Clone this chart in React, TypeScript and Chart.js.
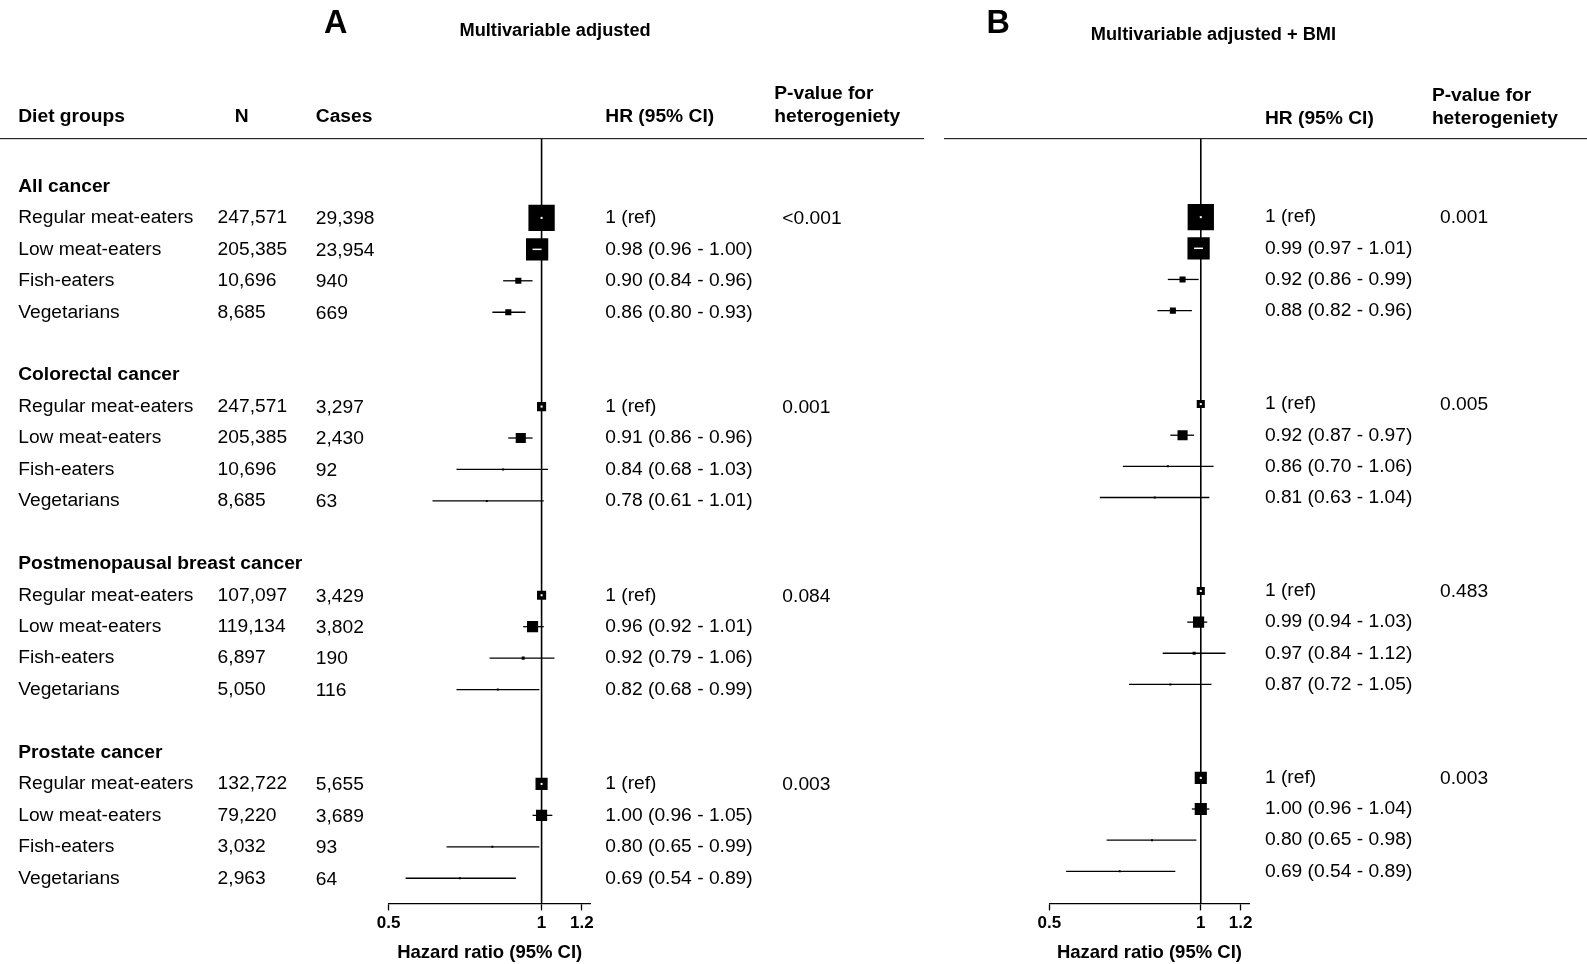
import React, { useEffect, useRef } from "react";
import { Chart, registerables } from "chart.js";
Chart.register(...registerables);

const cancers = ["All cancer", "Colorectal cancer", "Postmenopausal breast cancer", "Prostate cancer"];
const groups = ["Regular meat-eaters", "Low meat-eaters", "Fish-eaters", "Vegetarians"];
const nValues = [
  ["247,571", "205,385", "10,696", "8,685"],
  ["247,571", "205,385", "10,696", "8,685"],
  ["107,097", "119,134", "6,897", "5,050"],
  ["132,722", "79,220", "3,032", "2,963"],
];
const caseValues = [
  ["29,398", "23,954", "940", "669"],
  ["3,297", "2,430", "92", "63"],
  ["3,429", "3,802", "190", "116"],
  ["5,655", "3,689", "93", "64"],
];
const hrA = [[1, 0.98, 0.9, 0.86], [1, 0.91, 0.84, 0.78], [1, 0.96, 0.92, 0.82], [1, 1.0, 0.8, 0.69]];
const loA = [[1, 0.96, 0.84, 0.8], [1, 0.86, 0.68, 0.61], [1, 0.92, 0.79, 0.68], [1, 0.96, 0.65, 0.54]];
const hiA = [[1, 1.0, 0.96, 0.93], [1, 0.96, 1.03, 1.01], [1, 1.01, 1.06, 0.99], [1, 1.05, 0.99, 0.89]];
const sizeA = [[26, 22, 6, 6], [9, 10, 2, 2], [9, 11, 3, 2], [12, 11, 2, 2]];
const pA = ["<0.001", "0.001", "0.084", "0.003"];
const hrB = [[1, 0.99, 0.92, 0.88], [1, 0.92, 0.86, 0.81], [1, 0.99, 0.97, 0.87], [1, 1.0, 0.8, 0.69]];
const loB = [[1, 0.97, 0.86, 0.82], [1, 0.87, 0.7, 0.63], [1, 0.94, 0.84, 0.72], [1, 0.96, 0.65, 0.54]];
const hiB = [[1, 1.01, 0.99, 0.96], [1, 0.97, 1.06, 1.04], [1, 1.03, 1.12, 1.05], [1, 1.04, 0.98, 0.89]];
const sizeB = [[26, 22, 6, 6], [8, 10, 2, 2], [8, 11, 3, 2], [12, 12, 2, 2]];
const pB = ["0.001", "0.005", "0.483", "0.003"];
const xTicks = [0.5, 1, 1.2];

const K = 1587 / 1568;
const FONT = "'Liberation Sans', Arial, sans-serif";
const BODY = 19;
const f2 = (v: number) => v.toFixed(2);
const rowOf = (c: number, g: number) => c * 6 + 1 + g;

type Panel = {
  hr: number[][]; lo: number[][]; hi: number[][]; size: number[][]; p: string[];
  left: number; width: number; padL: number; padR: number; yMin: number; yMax: number; full: boolean;
  letter: string; letterX: number; title: string; titleX: number; titleY: number;
  hrX: number; pHeadX: number; pX: number; lineL: number; lineR: number;
};

const panels: Panel[] = [
  { hr: hrA, lo: loA, hi: hiA, size: sizeA, p: pA, left: 0, width: 930 * K, padL: 384 * K, padR: (930 - 584) * K,
    yMin: -1.52, yMax: 22.8, full: true, letter: "A", letterX: 320, title: "Multivariable adjusted",
    titleX: 454, titleY: 31, hrX: 598, pHeadX: 765, pX: 773, lineL: 0, lineR: 913 },
  { hr: hrB, lo: loB, hi: hiB, size: sizeB, p: pB, left: 930 * K, width: 1587 - 930 * K, padL: 107 * K, padR: 1587 - 930 * K - 304.6 * K,
    yMin: -1.52, yMax: 23.03, full: false, letter: "B", letterX: 975, title: "Multivariable adjusted + BMI",
    titleX: 1078, titleY: 35, hrX: 1250, pHeadX: 1415, pX: 1423, lineL: 933, lineR: 1590 },
];

function PanelChart({ P }: { P: Panel }) {
  const ref = useRef<HTMLCanvasElement>(null);
  useEffect(() => {
    const pts: any[] = [];
    const radii: number[] = [];
    for (let c = 0; c < 4; c++)
      for (let g = 0; g < 4; g++) {
        pts.push({ x: P.hr[c][g], y: rowOf(c, g), lo: P.lo[c][g], hi: P.hi[c][g], ref: g === 0 });
        radii.push((P.size[c][g] * K) / Math.SQRT2);
      }
    const L = P.left;
    const plugin = {
      id: "forest",
      beforeDatasetsDraw(chart: any) {
        const { ctx, scales, chartArea } = chart;
        const xs = scales.x, ys = scales.y;
        ctx.save();
        ctx.strokeStyle = "#000";
        ctx.lineWidth = 1.6;
        const x1 = xs.getPixelForValue(1);
        ctx.beginPath(); ctx.moveTo(x1, chartArea.top); ctx.lineTo(x1, chartArea.bottom); ctx.stroke();
        ctx.lineWidth = 1.3;
        pts.forEach((p) => {
          const y = ys.getPixelForValue(p.y);
          ctx.beginPath(); ctx.moveTo(xs.getPixelForValue(p.lo), y); ctx.lineTo(xs.getPixelForValue(p.hi), y); ctx.stroke();
        });
        ctx.restore();
      },
      afterDatasetsDraw(chart: any) {
        const { ctx, scales } = chart;
        const xs = scales.x, ys = scales.y;
        ctx.save();
        ctx.strokeStyle = "#fff";
        ctx.fillStyle = "#fff";
        pts.forEach((p, i) => {
          const half = radii[i] * Math.SQRT1_2;
          const x = xs.getPixelForValue(p.x), y = ys.getPixelForValue(p.y);
          if (p.ref) { if (half >= 3) ctx.fillRect(x - 1, y - 1, 2, 2); return; }
          if (half < 8) return;
          const a = Math.max(xs.getPixelForValue(p.lo), x - half + 1);
          const b = Math.min(xs.getPixelForValue(p.hi), x + half - 1);
          ctx.lineWidth = 1.5;
          ctx.beginPath(); ctx.moveTo(a, y); ctx.lineTo(b, y); ctx.stroke();
        });
        ctx.fillStyle = "#000";
        ctx.strokeStyle = "#000";
        ctx.textBaseline = "middle";
        ctx.textAlign = "left";
        const T = (s: string, x: number, y: number, bold = false, size = BODY, abs = false) => {
          ctx.font = `${bold ? "bold " : ""}${size * K}px ${FONT}`;
          ctx.fillText(s, x * K - L, abs ? y : y * K);
        };
        T(P.letter, P.letterX, 24, true, 32);
        T(P.title, P.titleX, P.titleY, true, BODY - 1);
        ctx.lineWidth = 1;
        ctx.beginPath(); ctx.moveTo(P.lineL * K - L, 137 * K); ctx.lineTo(P.lineR * K - L, 137 * K); ctx.stroke();
        if (P.full) {
          T("Diet groups", 18, 115, true);
          T("N", 232, 115, true);
          T("Cases", 312, 115, true);
        }
        T("HR (95% CI)", P.hrX, P.full ? 115 : 117, true);
        T("P-value for", P.pHeadX, P.full ? 93 : 95, true);
        T("heterogeniety", P.pHeadX, P.full ? 115 : 117, true);
        for (let c = 0; c < 4; c++) {
          if (P.full) T(cancers[c], 18, ys.getPixelForValue(c * 6), true, BODY, true);
          for (let g = 0; g < 4; g++) {
            const y = ys.getPixelForValue(rowOf(c, g));
            if (P.full) {
              T(groups[g], 18, y, false, BODY, true);
              T(nValues[c][g], 215, y, false, BODY, true);
              T(caseValues[c][g], 312, y + 1, false, BODY, true);
            }
            const s = g === 0 ? "1 (ref)" : `${f2(P.hr[c][g])} (${f2(P.lo[c][g])} - ${f2(P.hi[c][g])})`;
            T(s, P.hrX, y, false, BODY, true);
            if (g === 0) T(P.p[c], P.pX, y + 1, false, BODY, true);
          }
        }
        ctx.restore();
      },
    };
    const chart = new Chart(ref.current!, {
      type: "scatter",
      data: {
        datasets: [{
          data: pts, pointStyle: "rect", pointRadius: radii, pointHoverRadius: radii,
          backgroundColor: "#000", borderColor: "#000", borderWidth: 0,
        }],
      },
      options: {
        animation: false, responsive: false, events: [],
        layout: { padding: { left: P.padL, right: P.padR, top: 137 * K, bottom: 0 } },
        plugins: { legend: { display: false }, tooltip: { enabled: false } },
        scales: {
          x: {
            type: "logarithmic", min: 0.5, max: 1.25,
            afterBuildTicks: (s: any) => { s.ticks = xTicks.map((v) => ({ value: v })); },
            ticks: { color: "#000", padding: 3, font: { family: FONT, size: 17, weight: "bold" }, callback: (v: any) => String(v), maxRotation: 0, autoSkip: false },
            grid: { display: true, drawOnChartArea: false, color: "#000", tickLength: 7, tickWidth: 1.3 },
            border: { display: true, color: "#000", width: 1.3 },
            title: { display: true, text: "Hazard ratio (95% CI)", color: "#000", font: { family: FONT, size: 18.5, weight: "bold" }, padding: { top: 5, bottom: 0 } },
          },
          y: { type: "linear", reverse: true, min: P.yMin, max: P.yMax, display: false },
        },
      },
      plugins: [plugin],
    } as any);
    return () => chart.destroy();
  }, []);
  return (
    <canvas ref={ref} width={Math.round(P.width)} height={964}
      style={{ position: "absolute", left: P.left, top: 0, width: Math.round(P.width), height: 964 }} />
  );
}

export default function App() {
  return (
    <div style={{ position: "fixed", left: 0, top: 0, width: 1587, height: 964, background: "#fff", overflow: "hidden" }}>
      {panels.map((P, i) => <PanelChart key={i} P={P} />)}
    </div>
  );
}
